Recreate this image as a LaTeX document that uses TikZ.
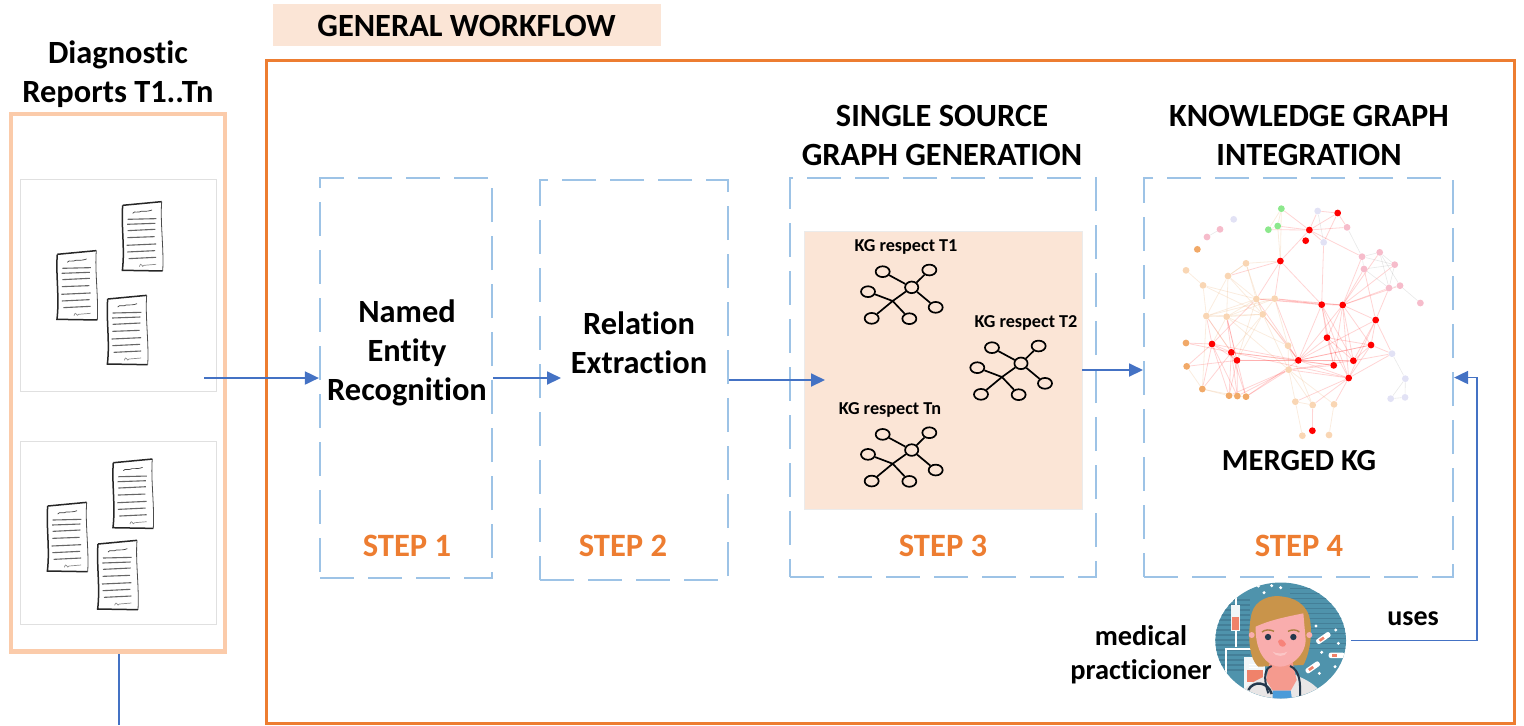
\documentclass[tikz,border=0pt]{standalone}
\usepackage{fontspec}
\setmainfont[Ligatures=NoCommon]{Carlito}
\usetikzlibrary{arrows.meta,shapes.geometric}
\pgfdeclarelayer{edges}
\pgfsetlayers{edges,main}
\definecolor{wforange}{HTML}{ED7D31}
\definecolor{peachline}{HTML}{FBCBAA}
\definecolor{peachfill}{HTML}{FBE5D6}
\definecolor{dashblue}{HTML}{9DC3E6}
\definecolor{arrowblue}{HTML}{4472C4}
\definecolor{gred}{HTML}{FF0000}
\definecolor{gpeach}{HTML}{F9D6B4}
\definecolor{gorange}{HTML}{F1A968}
\definecolor{gpink}{HTML}{F6BCCB}
\definecolor{glav}{HTML}{E2E2F5}
\definecolor{ggreen}{HTML}{8CE88C}
\definecolor{docteal}{HTML}{4F93AC}
\definecolor{docstripe}{HTML}{447F98}
\definecolor{dochair}{HTML}{C9944A}
\definecolor{docskin}{HTML}{F9ADAD}
\definecolor{docneck}{HTML}{F59A8E}
\definecolor{doccoat}{HTML}{E9E6E6}
\definecolor{docdark}{HTML}{24384C}
\definecolor{docsalmon}{HTML}{F0826A}
\definecolor{docshirt}{HTML}{4A9BD9}
\tikzset{
  stepbox/.style={draw=dashblue,line width=1.1pt,dash pattern=on 17pt off 7pt,rectangle,inner sep=0pt},
  bigtext/.style={font=\fontsize{16.2}{19.5}\selectfont\bfseries,align=center,inner sep=0pt,text=black},
  steptext/.style={font=\fontsize{16.3}{19}\selectfont\bfseries,inner sep=0pt,text=wforange},
  smalltext/.style={font=\fontsize{9.1}{11}\selectfont\bfseries,inner sep=0pt,text=black},
  flow/.style={draw=arrowblue,line width=0.95pt,-{Triangle[length=7pt,width=6.5pt]}},
  kgleaf/.style={draw=black,line width=0.85pt,ellipse,minimum width=7pt,minimum height=5.4pt,inner sep=0pt,fill=peachfill},
  dotnode/.style={circle,inner sep=0pt,minimum size=3.4pt},
  gedge/.style={draw=gred,opacity=.17,line width=.4pt},
  tedge/.style={draw=gorange!80!brown,opacity=.2,line width=.4pt},
}
\newcommand{\docpaper}[2]{%
  \begin{scope}[shift={(#1,#2)},x=0.16667pt,y=-0.16667pt]
    \fill[white] (0,0)--(117,-11)--(120,197)--(-1,195)--cycle;
    \draw[black!70,line width=.4pt] (117,-11) .. controls (112,50) and (124,130) .. (120,197);
    \draw[black!85,line width=.75pt] (0,0) -- (117,-11);
    \draw[black!85,line width=.75pt] (0,0) .. controls (-5,60) and (7,130) .. (-1,195) -- (120,197);
    \foreach \ya/\yb/\xa/\xb in {42/40/15/101, 57/54/13/98, 76/72/15/98, 97/94/14/96, 120/116/12/100, 140/136/14/97, 160/156/18/100}
      \draw[black!60,line width=.55pt] (\xa,\ya) -- (\xb,\yb);
    \draw[black!75,line width=.35pt] (30,24) .. controls (38,14) and (42,26) .. (50,20) .. controls (58,14) and (66,22) .. (88,14);
    \draw[black!45,line width=.35pt] (50,184) .. controls (56,165) and (58,192) .. (64,180) -- (100,177);
  \end{scope}}
\newcommand{\kgglyph}[3]{%
  \begin{scope}[shift={(#2,#3)},x=0.16667pt,y=-0.16667pt]
    \coordinate (#1j) at (308,243);
    \node[kgleaf,minimum width=6.6pt,minimum height=5.8pt] (#1hub) at (365,202) {};
    \node[kgleaf] (#1a) at (278,155) {};
    \node[kgleaf] (#1b) at (418,150) {};
    \node[kgleaf] (#1c) at (234,215) {};
    \node[kgleaf] (#1d) at (437,262) {};
    \node[kgleaf] (#1e) at (245,295) {};
    \node[kgleaf] (#1f) at (358,296) {};
    \draw[black,line width=.85pt] (#1a) -- (#1hub) (#1b) -- (#1hub) (#1d) -- (#1hub) (#1hub) -- (#1j) (#1c) -- (#1j) (#1e) -- (#1j) (#1f) -- (#1j);
  \end{scope}}
\begin{document}
\begin{tikzpicture}[x=0.5pt,y=-0.5pt]
\useasboundingbox (0,0) rectangle (1524,725);
% frames
\node[fill=peachfill,minimum width=194pt,minimum height=21pt,inner sep=0pt] (titlebar) at (467,25) {};
\node[bigtext] (title) at (466.5,26) {GENERAL WORKFLOW};
\node[draw=wforange,line width=1.5pt,minimum width=624pt,minimum height=331.5pt,inner sep=0pt] (workflow) at (890,391.5) {};
\node[draw=peachline,line width=2.3pt,minimum width=107pt,minimum height=268.75pt,inner sep=0pt] (reports) at (118,382.75) {};
\node[draw=black!12,line width=.5pt,minimum width=98pt,minimum height=106pt,inner sep=0pt] (docsA) at (118,285) {};
\node[draw=black!12,line width=.5pt,minimum width=98pt,minimum height=91.5pt,inner sep=0pt] (docsB) at (118,532.5) {};
\node[bigtext] (reportstitle) at (118,74) {Diagnostic\\Reports T1..Tn};
% papers
\docpaper{122.7}{205.3}
\docpaper{57.3}{254.3}
\docpaper{107.7}{299}
\docpaper{113.3}{462.7}
\docpaper{47.7}{506}
\docpaper{98}{544}
% step boxes
\node[stepbox,minimum width=86pt,minimum height=200pt] (step1) at (406,378) {};
\node[stepbox,minimum width=94pt,minimum height=200pt] (step2) at (634,380) {};
\node[stepbox,minimum width=153pt,minimum height=199.5pt] (step3) at (943,377.5) {};
\node[stepbox,minimum width=154.5pt,minimum height=199.5pt] (step4) at (1298.5,377.5) {};
\node[bigtext] (ner) at (407,353) {Named\\Entity\\Recognition};
\node[bigtext] (re) at (639,343) {Relation\\Extraction};
\node[bigtext] (sg) at (942,135) {SINGLE SOURCE\\GRAPH GENERATION};
\node[bigtext] (kgi) at (1309,135) {KNOWLEDGE GRAPH\\INTEGRATION};
\node[steptext] (s1) at (407,546) {STEP 1};
\node[steptext] (s2) at (623,546) {STEP 2};
\node[steptext] (s3) at (943,546) {STEP 3};
\node[steptext] (s4) at (1299,546) {STEP 4};
% KG panel
\node[fill=peachfill,draw=black!8,line width=.4pt,minimum width=139pt,minimum height=139pt,inner sep=0pt] (kgpanel) at (943,370) {};
\node[smalltext] (t1) at (906,247) {KG respect T1};
\node[smalltext] (t2) at (1026,323) {KG respect T2};
\node[smalltext] (tn) at (890,410) {KG respect Tn};
\kgglyph{u}{790}{220}
\kgglyph{v}{899.3}{296}
\kgglyph{w}{790}{382.7}
% merged graph
\begin{scope}[shift={(1160,190)},x=0.16667pt,y=-0.16667pt]
  \foreach \n/\x/\y in {g1/364/56,g2/353/108,g3/325/119}
    \node[dotnode,fill=ggreen] (\n) at (\x,\y) {};
  \foreach \n/\x/\y in {l1/473/63,l2/491/157,l3/221/88,l4/696/491,l5/736/566,l6/692/626,l7/735/622}
    \node[dotnode,fill=glav] (\n) at (\x,\y) {};
  \foreach \n/\x/\y in {p1/180/118,p2/141/141,p3/561/112,p4/606/200,p5/659/187,p6/704/224,p7/612/237,p8/687/294,p9/720/287,p10/781/339}
    \node[dotnode,fill=gpink] (\n) at (\x,\y) {};
  \foreach \n/\x/\y in {o1/112/178,o2/78/459,o3/80/529,o4/127/597,o5/207/617,o6/232/618,o7/258/620}
    \node[dotnode,fill=gorange] (\n) at (\x,\y) {};
  \foreach \n/\x/\y in {a1/258/220,a2/78/241,a3/204/258,a4/129/286,a5/289/327,a6/344/326,a7/139/378,a8/200/380,a9/308/373,a10/384/467,a11/386/539,a12/406/635,a13/458/645,a14/522/643,a15/427/737,a16/507/735}
    \node[dotnode,fill=gpeach] (\n) at (\x,\y) {};
  \foreach \n/\x/\y in {r1/533/69,r2/448/120,r3/437/152,r4/361/213,r5/485/344,r6/548/345,r7/647/390,r8/501/443,r9/633/465,r10/156/462,r11/214/487,r12/231/511,r13/415/511,r14/521/526,r15/580/512,r16/566/564,r17/457/722}
    \node[dotnode,fill=gred] (\n) at (\x,\y) {};
  \begin{pgfonlayer}{edges}
    \foreach \a/\b in {g3/r2,g2/r2,g1/r2,r2/p3,r2/r1,r2/p4,r2/r4,r4/a6,r4/a5,r4/r5,r4/a3,r2/l2,l1/r2,l1/r1,r1/p3,r1/l2,l2/r5,r5/r6,r6/p4,r6/p7,r6/p6,r6/p8,r6/p9,r6/p5,r5/a5,r5/a6,r6/a6,r6/a5,r6/r7,p7/r7,p8/r7,r5/r13,r6/r13,r8/r13,r7/r13,r9/r13,r14/r13,r15/r13,r16/r13,r5/r8,r6/r8,r8/r14,r8/r15,r8/r16,r5/r15,r5/r16,r6/r15,r6/r16,r6/r14,r7/r15,r7/r16,r9/r16,r9/r15,r7/r9,r5/r14,r6/r9,r8/r9,r9/l4,r7/l4,r16/l4,r15/l4,r16/a11,r16/a12,r16/a13,r16/a14,r15/a11,r14/a11,r13/a6,r13/a5,r13/a9,r10/r13,r11/r13,r12/r13,r10/r11,r10/r12,r11/r12,r10/o2,r10/o3,r11/o2,r10/o4,r10/o5,r10/o6,r11/o4,r11/o5,r11/o6,r11/o7,r12/o5,r12/o6,r12/o7,r12/o3,r10/a7,r11/a8,r12/a8,r11/r14,r11/r16,r12/r15,o7/r13,o7/a11,o6/a11,o5/a11,a13/r17,r13/r9,r13/a10,a5/r10,a7/r11,a8/r12}
      \draw[gedge] (\a) -- (\b);
    \foreach \a/\b in {g1/r4,g2/r4,g3/g2,g1/g3,g2/g1,r4/a1,a1/a3,a1/a5,a3/a5,a3/a7,a3/a8,a2/a4,a4/a5,a4/a7,a4/a9,a5/a6,a5/a7,a5/a8,a5/a9,a6/a7,a6/a8,a6/a9,a7/a8,a7/a9,a8/a9,a9/a11,a8/a10,a8/a11,a6/a10,a9/a10,a10/a11,a11/a12,a11/a13,a11/a14,a10/a13,a12/a15,a14/a16,a13/a12,a9/r11,a9/r12,a5/r12,a1/a9,a7/r12,a8/r10,o3/o4,o4/o5,o4/o6,o5/o6,o6/o7,a7/o4,a3/a9,a3/a1}
      \draw[tedge] (\a) -- (\b);
    \foreach \a/\b in {l1/l2,p3/p4,p4/p5,p5/p6,p6/p7,p4/p7,p7/p8,p8/p9,p9/p10,p5/p9,p4/p6,p5/p8,p6/p8,l4/l5,l5/l6,l5/l7,l6/l7,p1/p2}
      \draw[draw=black!30,opacity=.3,line width=.3pt] (\a) -- (\b);
  \end{pgfonlayer}
\end{scope}
\node[bigtext,font=\fontsize{15.3}{18}\selectfont\bfseries] (merged) at (1299,461) {MERGED KG};
% doctor
\node[ellipse,fill=docteal,minimum width=65.3pt,minimum height=58pt,inner sep=0pt] (doctor) at (1280.7,640.5) {};
\begin{scope}[shift={(1190,570)},x=0.16667pt,y=-0.16667pt]
  \begin{scope}
    \clip (272,211) ellipse [x radius=196,y radius=174];
    \foreach \yy in {55,70,...,235} \draw[docstripe,line width=.7pt] (300,\yy) -- (470,\yy);
    \foreach \yy in {90,105,...,300} \draw[docstripe,line width=.7pt] (70,\yy) -- (180,\yy);
    \draw[white,line width=.9pt] (137,78) -- (137,105);
    \fill[white!92!docteal] (124,105) rectangle (149,182);
    \fill[docsalmon] (126,140) rectangle (147,180);
    \draw[white,line width=.9pt] (137,182) -- (137,232);
    \draw[white,line width=.9pt] (108,330) -- (108,236) -- (190,236);
    \fill[white!92!docteal] (163,262) rectangle (225,360);
    \fill[docsalmon] (172,300) rectangle (218,335);
    \draw[white,line width=.5pt] (178,282) -- (210,282) (178,292) -- (205,292);
    \foreach \px/\py/\ang in {400/204/35,440/256/0,368/292/35} {
      \begin{scope}[shift={(\px,\py)},rotate=\ang]
        \fill[white,rounded corners=1pt] (-24,-8) rectangle (24,8);
        \fill[docsalmon] (-14,-4) rectangle (2,4);
      \end{scope}}
    \foreach \px/\py in {222/68, 245/47, 272/53, 205/48, 378/168, 437/180, 445/220, 395/247, 435/290, 388/310}
      \fill[white] (\px,\py) circle (5);
    \fill[doccoat] (140,400) .. controls (150,350) and (200,330) .. (240,312) -- (310,312) .. controls (350,330) and (390,345) .. (410,400) -- cycle;
    \fill[dochair] (205,290) .. controls (170,260) and (175,170) .. (185,130) .. controls (195,90) and (240,72) .. (280,80) .. controls (320,85) and (340,105) .. (352,125) .. controls (370,160) and (365,240) .. (340,285) -- cycle;
    \fill[docneck] (240,270) -- (306,270) -- (320,330) -- (302,362) -- (248,362) -- (228,330) -- cycle;
    \fill[docshirt] (248,362) -- (302,362) -- (308,400) -- (248,400) -- cycle;
    \fill[docskin] (185,195) circle (9) (358,195) circle (9);
    \fill[docskin] (197,170) .. controls (240,150) and (290,140) .. (340,130) -- (347,210) .. controls (345,260) and (300,290) .. (270,290) .. controls (240,290) and (195,260) .. (197,170) -- cycle;
    \draw[dochair!85!black,line width=.7pt] (216,186) .. controls (225,178) and (240,178) .. (252,184) (294,184) .. controls (305,178) and (320,178) .. (328,186);
    \fill[docdark] (234,201) circle (9.5) (310,201) circle (9.5);
    \fill[docneck!85!red] (264,215) .. controls (266,205) and (280,205) .. (288,222) .. controls (285,234) and (268,234) .. (264,215) -- cycle;
    \fill[docskin!70!white] (248,245) .. controls (260,252) and (280,252) .. (292,245) .. controls (288,262) and (255,262) .. (248,245) -- cycle;
    \draw[docdark,line width=1pt] (245,288) .. controls (225,295) and (218,320) .. (235,370);
    \draw[docdark,line width=1pt] (300,288) .. controls (330,300) and (332,340) .. (330,385);
    \draw[docdark,line width=1.2pt] (175,360) .. controls (190,330) and (235,335) .. (245,372);
  \end{scope}
\end{scope}
\node[bigtext,font=\fontsize{14.2}{17}\selectfont\bfseries] (medical) at (1141,655) {medical\\practicioner};
\node[bigtext,font=\fontsize{14}{17}\selectfont\bfseries] (uses) at (1413,619) {uses};
% connectors
\coordinate (srcA) at (204,378);
\coordinate (endA) at (561,378);
\coordinate (endB) at (825,380);
\coordinate (endC) at (1143,370);
\coordinate (bendD) at (1477,640.5);
\coordinate (downE) at (118.7,725);
\draw[flow] (srcA) -- (step1.west);
\draw[flow] (step1.east) -- (endA);
\draw[flow] (step2.east) -- (endB);
\draw[flow] (kgpanel.east) -- (endC);
\draw[flow] ([xshift=2.5pt]doctor.east) -- (bendD) |- (step4.east);
\draw[draw=arrowblue,line width=.95pt] (reports.south -| downE) -- (downE);
\end{tikzpicture}
\end{document}
